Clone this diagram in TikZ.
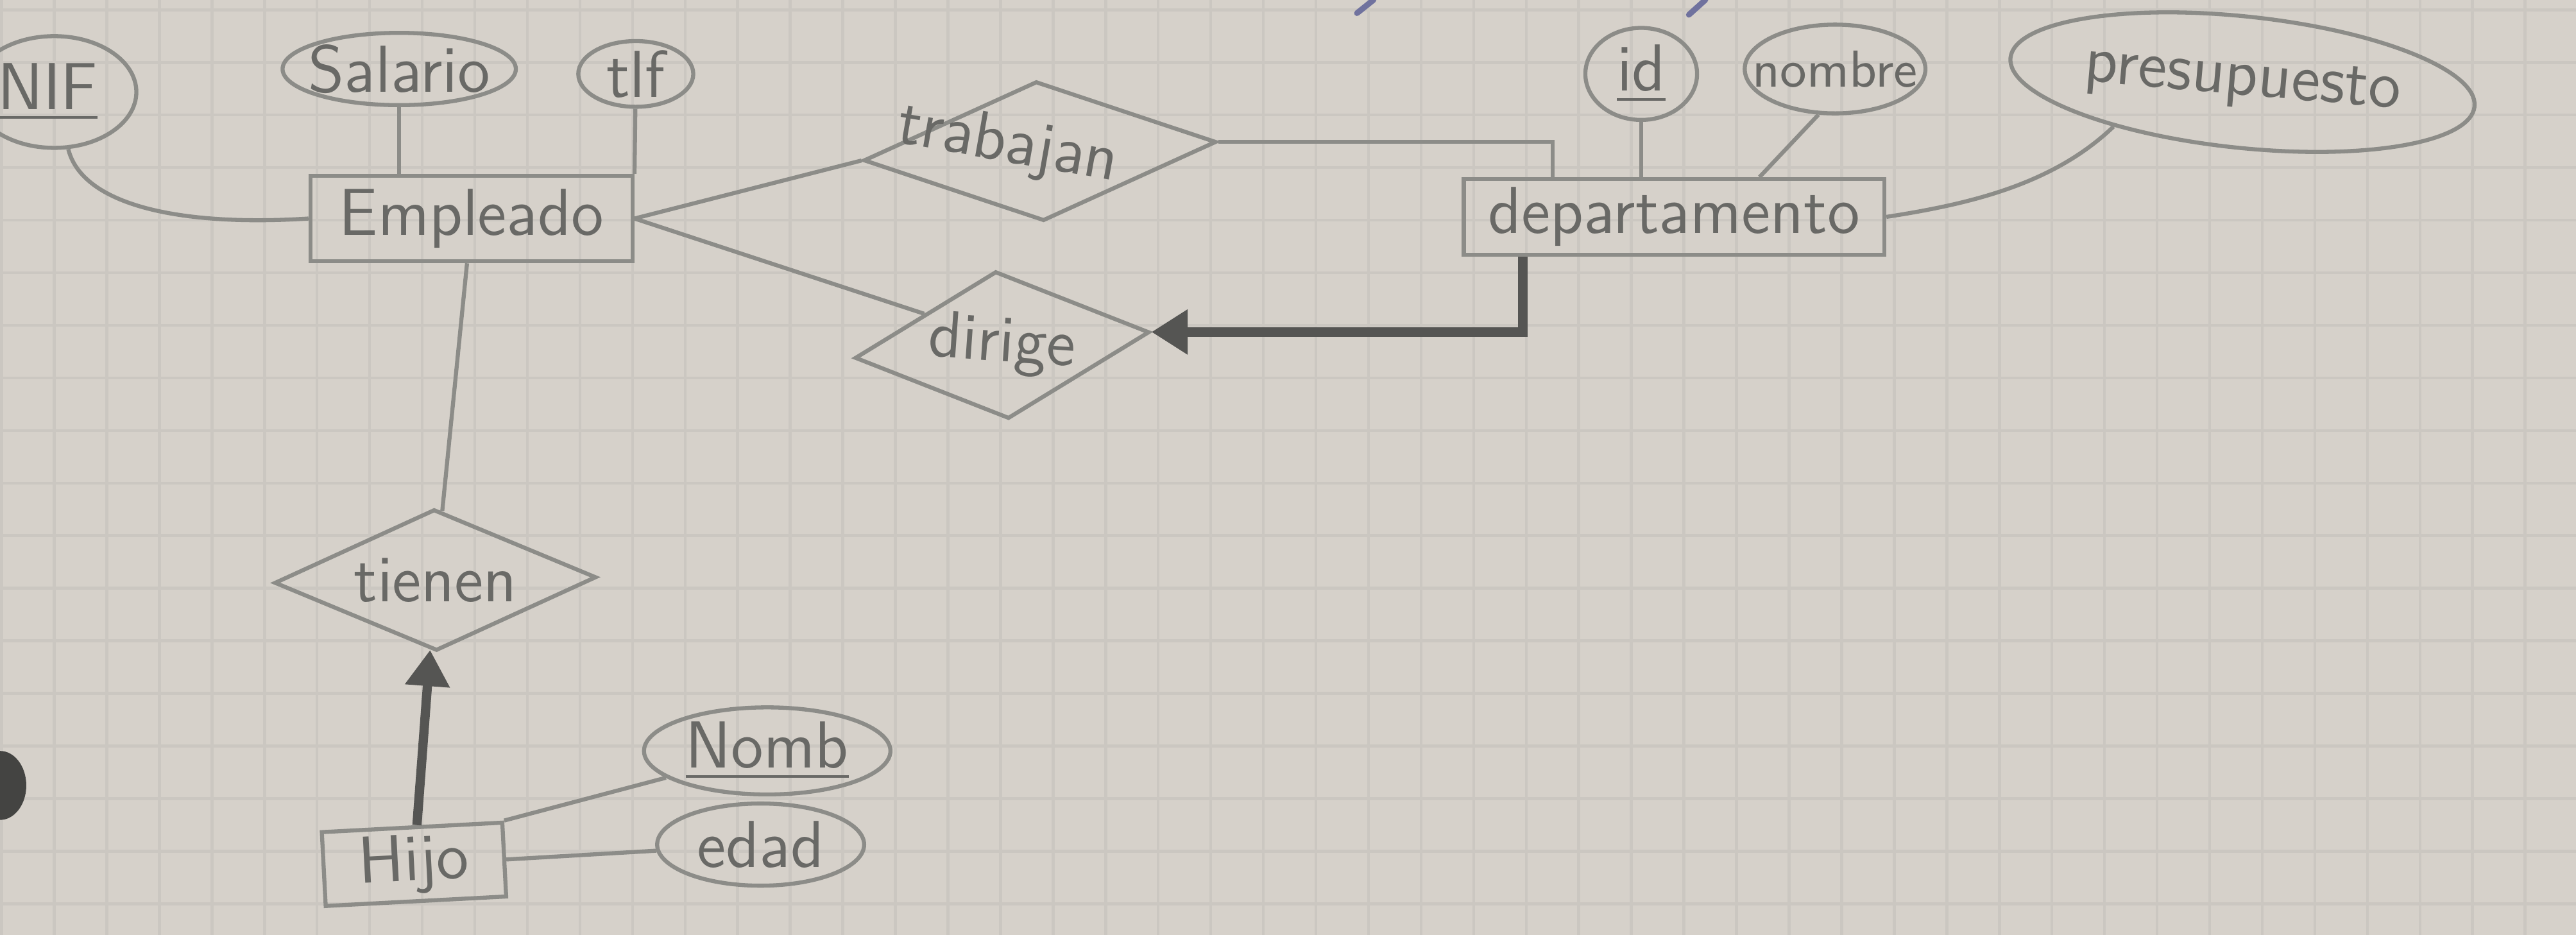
\documentclass[tikz,border=0pt]{standalone}
\usepackage{fontspec}
\usepackage{tikz}
\usetikzlibrary{arrows.meta,shapes.geometric}
\definecolor{paper}{RGB}{214,209,202}
\definecolor{gridgray}{RGB}{203,199,193}
\definecolor{pencil}{RGB}{140,140,136}
\definecolor{penciltext}{RGB}{105,105,102}
\definecolor{pencildark}{RGB}{85,85,83}
\definecolor{inkblue}{RGB}{112,114,158}
\tikzset{
	hand/.style={font=\sffamily\fontsize{11.5}{13}\selectfont, text=penciltext},
	gridline/.style={draw=gridgray, line width=0.5pt},
	entity/.style={hand, draw=pencil, line width=0.7pt, rectangle, inner sep=0pt},
	relation/.style={draw=pencil, line width=0.7pt, diamond, inner sep=0pt},
	attrib/.style={draw=pencil, line width=0.7pt, ellipse, inner sep=0pt},
	pencilline/.style={draw=pencil, line width=0.7pt},
	heavyline/.style={draw=pencildark, line width=1.6pt, -{Triangle[length=2.2mm, width=2.6mm]}},
	every label/.style={hand}
}

\begin{document}
\begin{tikzpicture}[x=0.1mm, y=-0.1mm]
		%%%%% START %%%%%
		
		\useasboundingbox (0,0) rectangle (1568,569);
		\fill[paper] (0,0) rectangle (1568,569);
		\foreach \gx in {1,33,...,1568} \draw[gridline] (\gx,0) -- (\gx,569);
		\foreach \gy in {6,38,...,569} \draw[gridline] (0,\gy) -- (1568,\gy);
		
		\fill[pencildark!80!black] (0,478) ellipse (16 and 21);
		\draw[inkblue, line width=1pt, line cap=round] (826,8) -- (836,0);
		\draw[inkblue, line width=1pt, line cap=round] (1028,9) -- (1038,0);
		
		\node[entity, minimum width=19.6mm, minimum height=5.2mm] (empleado) at (287,133) {Empleado};
		\node[entity, minimum width=25.6mm, minimum height=4.6mm] (departamento) at (1019,132) {departamento};
		\node[entity, minimum width=11mm, minimum height=4.5mm, rotate=3] (hijo) at (252,526) {Hijo};
		
		\node[relation, minimum width=21.5mm, minimum height=8.5mm, rotate=3, label={[rotate=-10, xshift=-2mm]center:trabajan}] (trabajan) at (633,92) {};
		\node[relation, minimum width=18mm, minimum height=9mm, rotate=5, label={[rotate=-4]center:dirige}] (dirige) at (610,210) {};
		\node[relation, minimum width=19.6mm, minimum height=8.6mm, rotate=1, label=center:tienen] (tienen) at (265,353) {};
		
		\node[attrib, minimum width=10mm, minimum height=6.8mm, label={[xshift=-0.4mm]center:\underline{NIF}}] (nif) at (33,56) {};
		\node[attrib, minimum width=14.2mm, minimum height=4.4mm, label=center:Salario] (salario) at (243,42) {};
		\node[attrib, minimum width=7mm, minimum height=4mm, label=center:tlf] (tlf) at (387,45) {};
		\node[attrib, minimum width=6.8mm, minimum height=5.6mm, label=center:\underline{id}] (id) at (999,45) {};
		\node[attrib, minimum width=11mm, minimum height=5.4mm, label={[font=\sffamily\fontsize{9}{10}\selectfont]center:nombre}] (nombre) at (1117,42) {};
		\node[attrib, minimum width=28.4mm, minimum height=8mm, rotate=-6, label={[rotate=-5]center:presupuesto}] (presupuesto) at (1365,50) {};
		\node[attrib, minimum width=15mm, minimum height=5.3mm, label=center:\underline{Nomb}] (nomb) at (467,457) {};
		\node[attrib, minimum width=12.6mm, minimum height=5mm, label=center:edad] (edad) at (463,514) {};
		
		\draw[pencilline] (nif) .. controls (50,125) and (110,138) .. (empleado.west);
		\draw[pencilline] (salario) -- (salario |- empleado.north);
		\draw[pencilline] (tlf) -- (empleado.north east);
		\draw[pencilline] (empleado) -- (tienen);
		\draw[pencilline] (empleado.east) -- (trabajan.west);
		\draw[pencilline] (empleado.east) -- (dirige.north west);
		\draw[pencilline] (trabajan.east) -| ([xshift=-7.4mm]departamento.north);
		
		\draw[pencilline] (id) -- (id |- departamento.north);
		\draw[pencilline] (nombre.250) -- ([xshift=5.2mm]departamento.north);
		\draw[pencilline] (presupuesto.205) .. controls (1250,112) and (1200,124) .. (departamento.east);
		\draw[heavyline] ([xshift=-9.2mm]departamento.south) |- (dirige.east);
		
		\draw[heavyline] (hijo) -- (tienen);
		\draw[pencilline] (hijo.north east) -- (nomb);
		\draw[pencilline] (hijo.east) -- (edad);
		
		%%%%% END %%%%%
	\end{tikzpicture}
\end{document}
